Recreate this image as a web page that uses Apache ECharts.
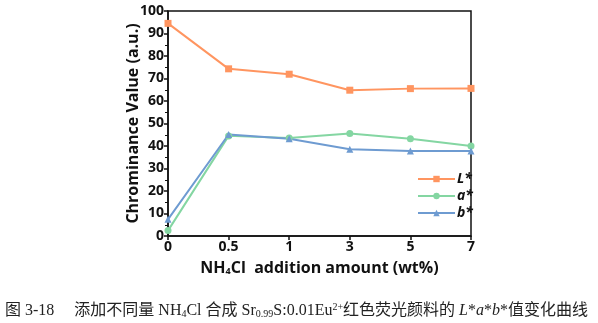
<!DOCTYPE html>
<html><head><meta charset="utf-8">
<script src="https://cdn.jsdelivr.net/npm/echarts@6/dist/echarts.min.js"></script>
<style>html,body{margin:0;padding:0;background:#fff}#c{width:598px;height:323px}</style>
</head><body><div id="c"></div>
<script>
var categories = ['0', '0.5', '1', '3', '5', '7'];
var L_values = [94.5, 74.3, 71.9, 64.8, 65.5, 65.6];
var a_values = [2.4, 44.5, 43.6, 45.6, 43.2, 40.0];
var b_values = [7.4, 45.1, 43.2, 38.6, 37.8, 37.8];
var yTicks = [0, 100, 10];
var seriesNames = ['L*', 'a*', 'b*'];
var colors = ['#FF9560', '#84D6A2', '#6E9BD1'];

var chart = echarts.init(document.getElementById('c'));
var font = '"Open Sans", "Liberation Sans", sans-serif';
function mk(name, data, color, sym) {
  return { name: name, type: 'line', data: data, symbol: sym, symbolSize: 7,
    itemStyle: { color: color }, lineStyle: { color: color, width: 2 } };
}
chart.setOption({
  animation: false,
  grid: { left: 168, right: 127, top: 11, bottom: 87, show: true, borderColor: '#111', borderWidth: 1.5 },
  xAxis: {
    type: 'category', data: categories, boundaryGap: false,
    axisLine: { lineStyle: { color: '#111', width: 1.5 } },
    axisTick: { alignWithLabel: true, inside: false, length: 4, lineStyle: { color: '#111', width: 1.5 } },
    axisLabel: { color: '#111', fontWeight: 'bold', fontSize: 14, fontFamily: font, margin: 4 },
    name: '{a|NH}{s|4}{a|Cl  addition amount (wt%)}', nameLocation: 'middle', nameGap: 24,
    nameTextStyle: { rich: {
      a: { fontSize: 16, fontWeight: 'bold', color: '#111', fontFamily: font },
      s: { fontSize: 9, fontWeight: 'bold', color: '#111', fontFamily: font, verticalAlign: 'bottom', padding: [6, 0, 0, 0] }
    } }
  },
  yAxis: {
    type: 'value', min: yTicks[0], max: yTicks[1], interval: yTicks[2],
    axisLine: { show: true, lineStyle: { color: '#111', width: 1.5 } },
    axisTick: { show: true, length: 4, lineStyle: { color: '#111', width: 1.5 } },
    minorTick: { show: true, splitNumber: 2, length: 3, lineStyle: { color: '#111', width: 1 } },
    splitLine: { show: false },
    axisLabel: { color: '#111', fontWeight: 'bold', fontSize: 14, fontFamily: font, margin: 4 },
    name: 'Chrominance Value (a.u.)', nameLocation: 'middle', nameGap: 27, nameMoveOverlap: false,
    nameTextStyle: { color: '#111', fontWeight: 'bold', fontSize: 16, fontFamily: font }
  },
  legend: {
    orient: 'vertical', left: 412, top: 167, itemWidth: 37, itemHeight: 8, itemGap: 3,
    data: seriesNames,
    textStyle: { color: '#111', fontWeight: 'bold', fontStyle: 'italic', fontSize: 14, fontFamily: font, padding: [0, 0, 0, -3] }
  },
  series: [
    mk(seriesNames[0], L_values, colors[0], 'rect'),
    mk(seriesNames[1], a_values, colors[1], 'circle'),
    mk(seriesNames[2], b_values, colors[2], 'triangle')
  ],
  graphic: [{
    type: 'text', left: 5, top: 302,
    style: {
      text: '{t|图 3-18     添加不同量 NH}{sub|4}{t|Cl 合成 Sr}{sub|0.99}{t|S:0.01Eu}{sup|2+}{t|红色荧光颜料的 }{i|L}{t|*}{i|a}{t|*}{i|b}{t|*值变化曲线}',
      rich: {
        t: { fontSize: 16, fill: '#222', fontFamily: '"Liberation Serif", "Noto Sans CJK SC", serif' },
        i: { fontSize: 16, fill: '#222', fontStyle: 'italic', fontFamily: '"Liberation Serif", serif' },
        sub: { fontSize: 10, fill: '#222', fontFamily: '"Liberation Serif", serif', verticalAlign: 'bottom', padding: [7, 0, 0, 0] },
        sup: { fontSize: 10, fill: '#222', fontFamily: '"Liberation Serif", serif', verticalAlign: 'top', padding: [0, 0, 7, 0] }
      }
    }
  }]
});
</script></body></html>
